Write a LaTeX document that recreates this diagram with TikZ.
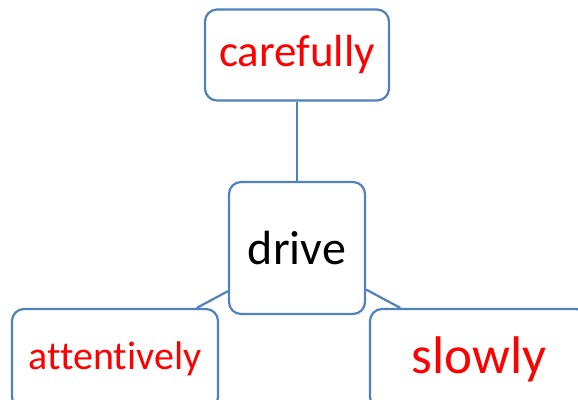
\documentclass[tikz,border=0pt]{standalone}
\usepackage{fontspec}
\setmainfont[Ligatures=NoCommon]{Carlito}
\usepackage{xcolor}
\usepackage{tikz}
\usetikzlibrary{calc}

\definecolor{boxblue}{RGB}{79,129,189}

\tikzset{
  wordbox/.style={draw=boxblue, line width=2.2pt, rounded corners=12pt, fill=white,
                  inner sep=0pt, align=center},
  link/.style={draw=boxblue, line width=2.2pt}
}

\begin{document}
\begin{tikzpicture}[x=1pt, y=-1pt]

        \useasboundingbox (0,0) rectangle (578,399);

         % the verb in the middle
         \node[wordbox, minimum width=136pt, minimum height=132pt] (drive) at (297,248)
              {\fontsize{48}{50}\selectfont drive};

         % adverbs round it
         \node[wordbox, minimum width=184pt, minimum height=91pt, text=red] (carefully) at (297,55)
              {\fontsize{45}{48}\selectfont carefully};
         \node[wordbox, minimum width=206pt, minimum height=100pt, text=red] (attentively) at (115,359)
              {\fontsize{40}{42}\selectfont attentively};
         \node[wordbox, minimum width=218pt, minimum height=100pt, text=red] (slowly) at (479,359)
              {\fontsize{53}{56}\selectfont slowly};

         % links
         \draw[link] (carefully.south) -- (drive.north);
         \draw[link] (drive.212) -- (attentively.32);
         \draw[link] (drive.-31) -- (slowly.147.5);

    \end{tikzpicture}
\end{document}
